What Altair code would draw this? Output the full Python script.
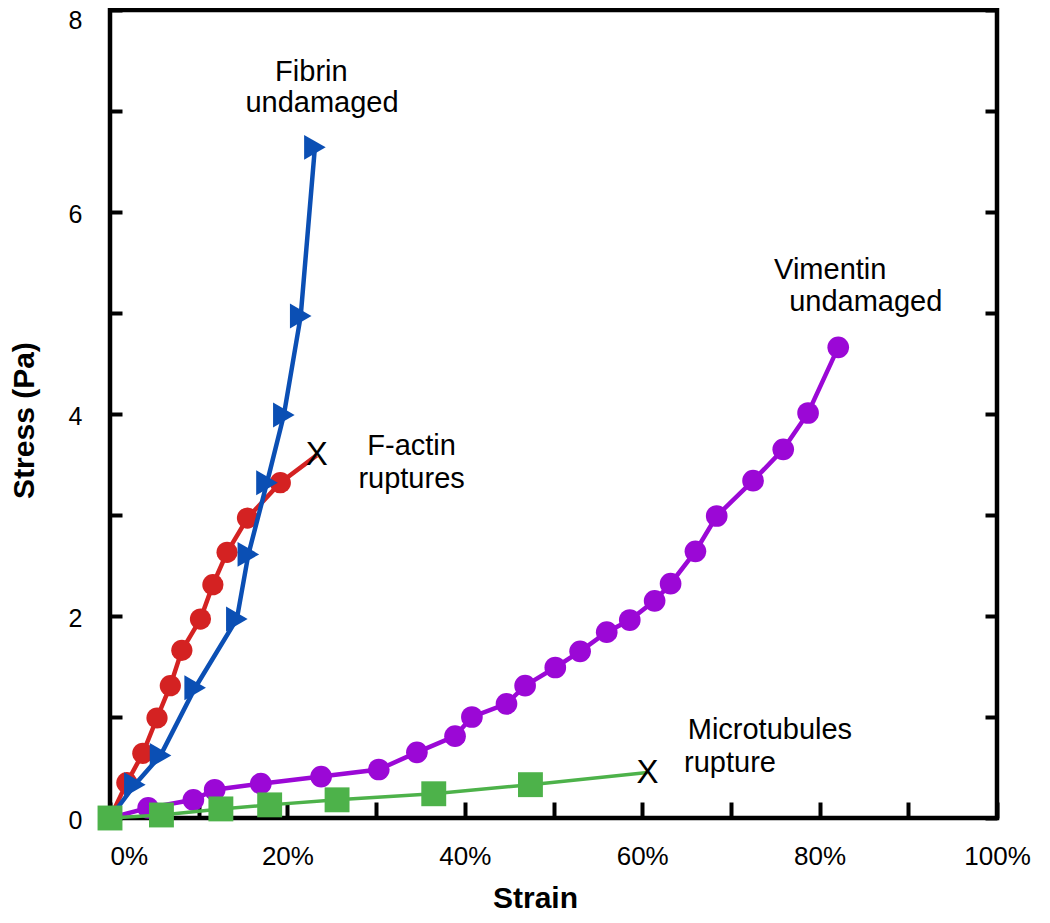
import altair as alt
import pandas as pd

FONT = "Liberation Sans"

# ---- data (strain in %, stress in Pa) ----
actin_strain = [1.9, 3.7, 5.3, 6.8, 8.1, 10.2, 11.6, 13.2, 15.5, 19.2]
actin_stress = [0.35, 0.64, 0.99, 1.31, 1.66, 1.97, 2.31, 2.63, 2.97, 3.32]
actin_rupture_strain = [23.3]
actin_rupture_stress = [3.59]

fibrin_strain = [2.8, 5.7, 9.6, 14.3, 15.6, 17.7, 19.6, 21.5, 23.1]
fibrin_stress = [0.33, 0.62, 1.29, 1.97, 2.61, 3.32, 3.99, 4.97, 6.64]

vimentin_strain = [4.3, 9.4, 11.8, 17.0, 23.8, 30.3, 34.6, 38.9, 40.8, 44.7, 46.8, 50.2,
                   53.0, 56.0, 58.6, 61.4, 63.2, 66.0, 68.4, 72.5, 75.9, 78.7, 82.1]
vimentin_stress = [0.10, 0.18, 0.28, 0.34, 0.41, 0.48, 0.65, 0.81, 1.00, 1.13, 1.31, 1.49,
                   1.65, 1.84, 1.96, 2.15, 2.32, 2.64, 2.99, 3.34, 3.65, 4.01, 4.66]

mt_strain = [0.0, 5.8, 12.5, 18.0, 25.6, 36.5, 47.4]
mt_stress = [0.0, 0.03, 0.09, 0.13, 0.18, 0.24, 0.33]
mt_rupture_strain = [60.6]
mt_rupture_stress = [0.45]

origin_strain = [0.0]
origin_stress = [0.0]

x_ticks = list(range(0, 101, 10))
y_ticks = list(range(0, 9))

ann_text = ["Fibrin", "undamaged", "F-actin", "ruptures", "Vimentin", "undamaged",
            "Microtubules", "rupture"]
ann_strain = [22.7, 23.9, 34.0, 34.0, 81.2, 85.2, 74.4, 69.9]
ann_stress = [7.39, 7.08, 3.68, 3.36, 5.43, 5.11, 0.87, 0.54]

COL_RED = "#d42222"
COL_BLUE = "#0b4fb4"
COL_PURPLE = "#9b08d6"
COL_GREEN = "#4db24a"


def frame(xv, yv):
    return pd.DataFrame({"x": xv, "y": yv, "i": list(range(len(xv)))})


xs = alt.Scale(domain=[0, 100], nice=False, zero=False)
ys = alt.Scale(domain=[0, 8], nice=False, zero=False)

x_axis = alt.Axis(
    values=x_ticks,
    labelExpr="datum.value % 20 == 0 ? datum.value + '%' : ''",
    tickSize=16, offset=-16, domain=False, tickWidth=4, tickColor="black",
    labelFlush=False,
    labelAlign={"condition": {"test": "datum.value == 0", "value": "left"}, "value": "center"},
    labelPadding=25, labelFontSize=26, labelFont=FONT, labelColor="black",
    labelOverlap=False, grid=False,
    title="Strain", titleFontSize=30, titleFont=FONT, titleFontWeight="bold",
    titleColor="black", titleX=425, titleY=105, titleBaseline="alphabetic",
    titleAlign="center",
)
y_axis = alt.Axis(
    values=y_ticks,
    labelExpr="datum.value % 2 == 0 ? datum.label : ''",
    tickSize=12, offset=-12, domain=False, tickWidth=4, tickColor="black",
    labelOffset={"condition": {"test": "datum.value == 8", "value": 10}, "value": 2},
    labelPadding=28, labelFontSize=25, labelFont=FONT, labelColor="black",
    labelOverlap=False, grid=False,
    title="Stress (Pa)", titleFontSize=30, titleFont=FONT, titleFontWeight="bold",
    titleColor="black", titleX=-98, titleY=410, titleAngle=270,
    titleBaseline="middle", titleAlign="center",
)
y_axis_right = alt.Axis(
    orient="right", values=y_ticks, labels=False, title=None,
    tickSize=12, offset=-12, domain=False, tickWidth=4, tickColor="black", grid=False,
)

X = alt.X("x:Q", scale=xs, axis=x_axis)
Y = alt.Y("y:Q", scale=ys, axis=y_axis)


def series(line_x, line_y, pt_x, pt_y, color, shape, size, lw):
    line = alt.Chart(frame(line_x, line_y)).mark_line(color=color, strokeWidth=lw).encode(
        x=X, y=Y, order="i:Q")
    pts = alt.Chart(frame(pt_x, pt_y)).mark_point(
        shape=shape, filled=True, opacity=1, color=color, size=size, strokeWidth=0).encode(x=X, y=Y)
    return [line, pts]


layers = []
layers += series(origin_strain + actin_strain + actin_rupture_strain,
                 origin_stress + actin_stress + actin_rupture_stress,
                 actin_strain, actin_stress, COL_RED, "circle", 450, 4.5)
layers += series(origin_strain + vimentin_strain, origin_stress + vimentin_stress,
                 vimentin_strain, vimentin_stress, COL_PURPLE, "circle", 470, 4.5)
layers += series(origin_strain + fibrin_strain, origin_stress + fibrin_stress,
                 fibrin_strain, fibrin_stress, COL_BLUE, "triangle-right", 620, 4.5)
layers += series(mt_strain + mt_rupture_strain, mt_stress + mt_rupture_stress,
                 mt_strain, mt_stress, COL_GREEN, "square", 620, 3.5)

rupture_df = pd.DataFrame({"x": actin_rupture_strain + mt_rupture_strain,
                           "y": actin_rupture_stress + mt_rupture_stress,
                           "t": ["X", "X"]})
layers.append(alt.Chart(rupture_df).mark_text(
    font=FONT, fontSize=33, color="black", align="center", baseline="middle").encode(
    x=X, y=Y, text="t:N"))

ann_df = pd.DataFrame({"x": ann_strain, "y": ann_stress, "t": ann_text})
layers.append(alt.Chart(ann_df).mark_text(
    font=FONT, fontSize=29, color="black", align="center", baseline="middle").encode(
    x=X, y=Y, text="t:N"))

main = alt.layer(*layers)

right = alt.Chart(frame(origin_strain, origin_stress)).mark_point(opacity=0).encode(
    x=X, y=alt.Y("y:Q", scale=ys, axis=y_axis_right))

chart = alt.layer(main, right).resolve_axis(y="independent").properties(
    width=887, height=808,
    padding={"left": 102, "top": 2, "right": 45, "bottom": 95},
    autosize=alt.AutoSizeParams(type="none"),
    background="white",
).configure_view(stroke="black", strokeWidth=4.5)

chart.save("out.html", embed_options={"renderer": "svg", "actions": False})
